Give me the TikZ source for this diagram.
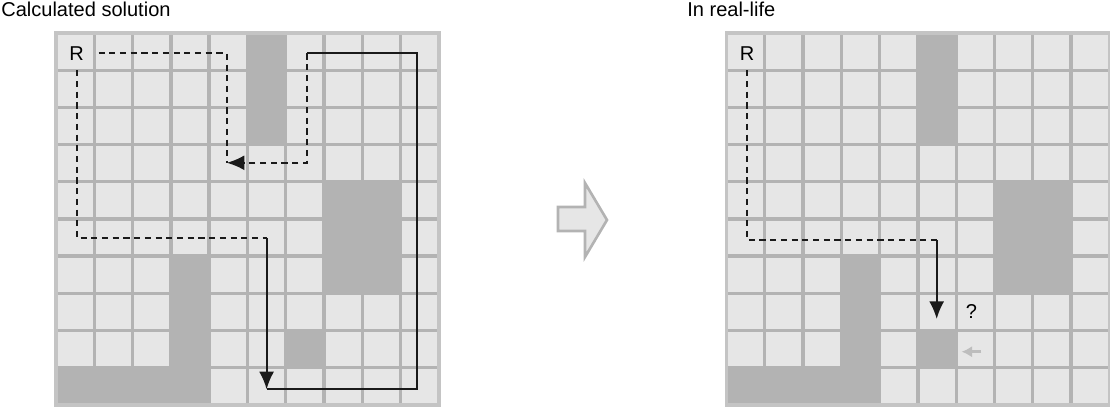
\documentclass[tikz,border=0pt]{standalone}
\usepackage{fontspec}
\setmainfont{Liberation Sans}
\usepackage{tikz}
\usetikzlibrary{arrows.meta}
\definecolor{hell}{HTML}{E6E6E6}
\definecolor{dunkel}{HTML}{B3B3B3}
\definecolor{rand}{HTML}{C4C4C4}
\definecolor{strich}{HTML}{1A1A1A}
\definecolor{blass}{HTML}{BDBDBD}
% 10x10 Raster, #1 = Lage des einzelnen Hindernisses
\newcommand{\raster}[1]{%
  \fill[hell] (0,0) rectangle (10,10);
  \foreach \c/\r in {5/0,5/1,5/2,7/4,8/4,7/5,8/5,7/6,8/6,3/6,3/7,3/8,0/9,1/9,2/9,3/9,#1}
    \fill[dunkel] (\c,\r) rectangle ++(1,1);
  \foreach \i in {1,...,9} {
    \draw[gitter] (\i,0) -- (\i,10);
    \draw[gitter] (0,\i) -- (10,\i);
  }
  \draw[gitter,rand] (0,0) rectangle (10,10);
}
\tikzset{
  gitter/.style={dunkel,line width=1.9pt},
  weg/.style={strich,line width=1.1pt},
  wegd/.style={weg,dash pattern=on 3.5pt off 2.6pt},
  pf/.style={-{Latex[length=10pt,width=8.5pt]}},
  robo/.style={inner sep=0pt,minimum width=0.86cm,minimum height=0.66cm},
  titel/.style={anchor=base west,inner sep=0pt},
  zelle/.style={x=0.766cm,y=-0.744cm},
}

\begin{document}
\begin{tikzpicture}[x=0.02cm,y=-0.02cm,font=\fontsize{11.4}{13}\selectfont]
  \useasboundingbox (0,0) rectangle (1110,408);
  \node[titel] (t1) at (1,17) {Calculated solution};
  \node[titel] (t2) at (687,17) {In real-life};

  % berechnete Route
  \begin{scope}[shift={(1.12cm,-0.66cm)},zelle]
    \raster{6/8}
    \node[robo] (R1) at (0.54,0.55) {R};
    \coordinate (u1) at (5.5,5.51);
    \coordinate (u2) at (5.5,9.58);
    \coordinate (u3) at (9.42,9.58);
    \coordinate (u4) at (9.42,0.55);
    \coordinate (u5) at (6.55,0.55);
    \coordinate (u6) at (4.46,3.49);
    \draw[wegd] (R1.south) |- (u1);
    \draw[weg,pf] (u1) -- (u2);
    \draw[weg] (u2) -- (u3) -- (u4) -- (u5);
    \draw[wegd,pf] (u5) |- (u6);
    \draw[wegd] (R1.east) -| (u6);
  \end{scope}

  % Blockpfeil
  \draw[fill=hell,draw=dunkel,line width=1.5pt,line join=miter]
    (558,207) -- (585,207) -- (585,183) -- (607,220) -- (585,257)
    -- (585,231) -- (558,231) -- cycle;

  % reale Route
  \begin{scope}[shift={(14.532cm,-0.66cm)},zelle]
    \raster{5/8}
    \node[robo] (R2) at (0.54,0.55) {R};
    \coordinate (v1) at (5.49,5.57);
    \coordinate (v2) at (5.49,7.69);
    \draw[wegd] (R2.south) |- (v1);
    \draw[weg,pf] (v1) -- (v2);
    \node (frage) at (6.4,7.5) {?};
    \coordinate (w1) at (6.66,8.57);
    \coordinate (w2) at (6.14,8.57);
    \draw[blass,line width=1.5pt,-{Latex[length=6pt,width=6.5pt]}] (w1) -- (w2);
  \end{scope}
\end{tikzpicture}
\end{document}
